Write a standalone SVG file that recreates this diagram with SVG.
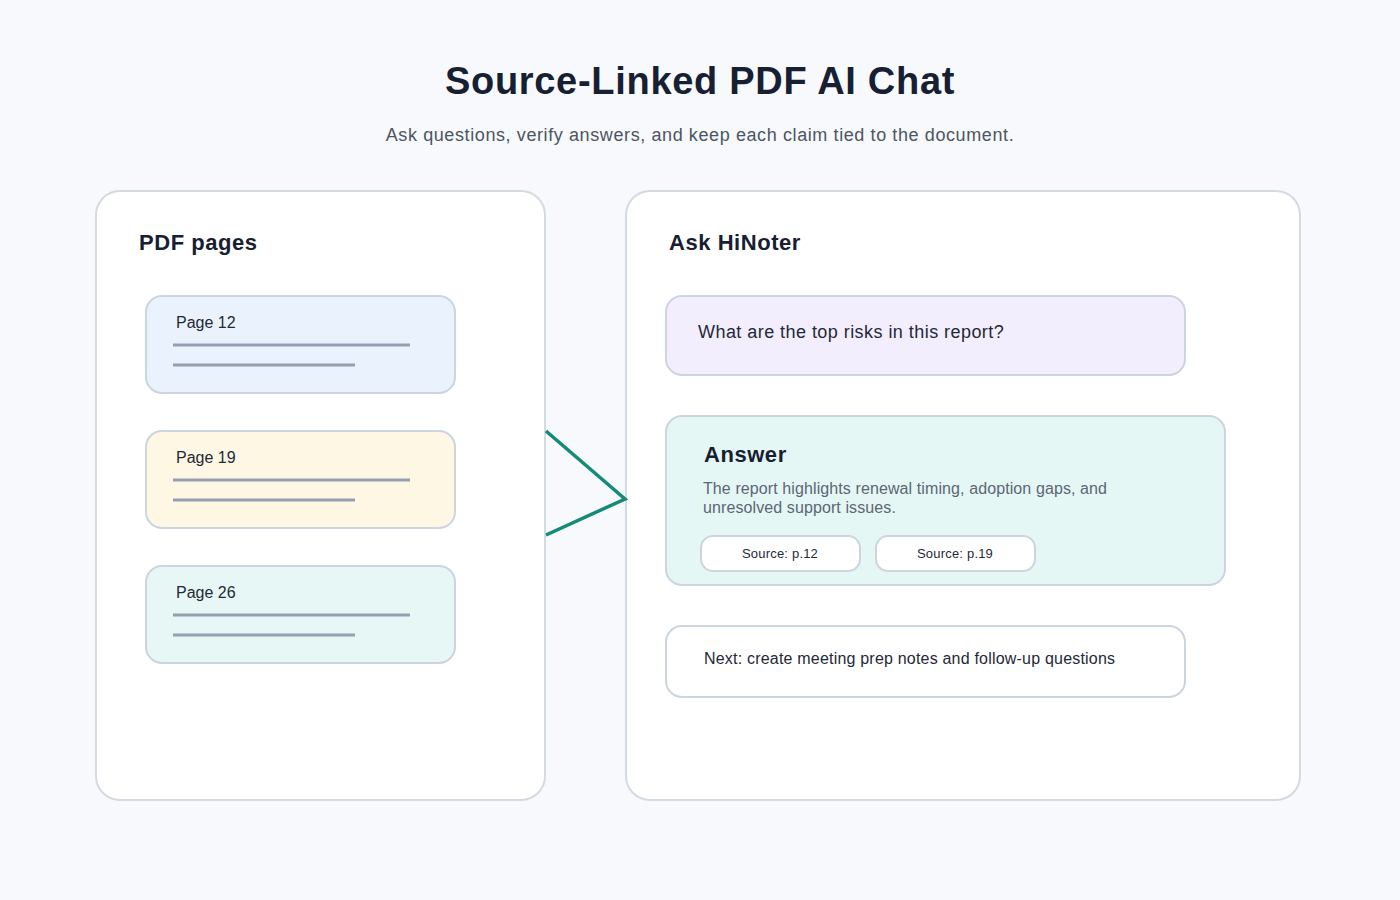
<svg xmlns="http://www.w3.org/2000/svg" width="1400" height="900" viewBox="0 0 1400 900">
<style>
text{font-family:"Liberation Sans",Arial,sans-serif}
.title{font-size:38px;font-weight:700;fill:#172033;letter-spacing:0.7px}
.sub{font-size:18px;fill:#4b5563;letter-spacing:0.6px}
.panel{fill:#ffffff;stroke:#d3dae2;stroke-width:2}
.h{font-size:22px;font-weight:700;fill:#172033;letter-spacing:0.55px}
.card{stroke:#ccd5df;stroke-width:2}
.pg{font-size:16px;fill:#1f2937}
.ln{stroke:#94a0b0;stroke-width:3}
.q{font-size:18px;fill:#1f2937;letter-spacing:0.45px}
.body{font-size:16px;fill:#5b6676;letter-spacing:0.1px}
.nx{font-size:16px;fill:#1f2937;letter-spacing:0.2px}
.pill{fill:#ffffff;stroke:#ccd5df;stroke-width:2}
.src{font-size:13px;fill:#1f2937;text-anchor:middle;letter-spacing:0.2px}
.conn{stroke:#148a78;stroke-width:3.5;fill:none}
</style>
<rect width="1400" height="900" fill="#f7f9fc"/>
<text class="title" x="700" y="94" text-anchor="middle">Source-Linked PDF AI Chat</text>
<text class="sub" x="700" y="141" text-anchor="middle">Ask questions, verify answers, and keep each claim tied to the document.</text>
<g id="pdf-panel">
<rect class="panel" x="96" y="191" width="449" height="609" rx="24"/>
<text class="h" x="139" y="250">PDF pages</text>
</g>
<g id="page-12">
<rect class="card" x="146" y="296" width="309" height="97" rx="16" fill="#eaf2fe"/>
<text class="pg" x="176" y="328">Page 12</text>
<line class="ln" x1="173" y1="345" x2="410" y2="345"/>
<line class="ln" x1="173" y1="365" x2="355" y2="365"/>
</g>
<g id="page-19">
<rect class="card" x="146" y="431" width="309" height="97" rx="16" fill="#fef7e4"/>
<text class="pg" x="176" y="463">Page 19</text>
<line class="ln" x1="173" y1="480" x2="410" y2="480"/>
<line class="ln" x1="173" y1="500" x2="355" y2="500"/>
</g>
<g id="page-26">
<rect class="card" x="146" y="566" width="309" height="97" rx="16" fill="#e6f7f5"/>
<text class="pg" x="176" y="598">Page 26</text>
<line class="ln" x1="173" y1="615" x2="410" y2="615"/>
<line class="ln" x1="173" y1="635" x2="355" y2="635"/>
</g>
<g id="chat-panel">
<rect class="panel" x="626" y="191" width="674" height="609" rx="24"/>
<text class="h" x="669" y="250">Ask HiNoter</text>
</g>
<g id="question">
<rect class="card" x="666" y="296" width="519" height="79" rx="16" fill="#f3eefe"/>
<text class="q" x="698" y="338">What are the top risks in this report?</text>
</g>
<g id="answer">
<rect class="card" x="666" y="416" width="559" height="169" rx="16" fill="#e5f7f4"/>
<text class="h" x="704" y="462">Answer</text>
<text class="body" x="703" y="494">The report highlights renewal timing, adoption gaps, and</text>
<text class="body" x="703" y="513">unresolved support issues.</text>
<rect class="pill" x="701" y="536" width="159" height="35" rx="12"/>
<text class="src" x="780" y="558">Source: p.12</text>
<rect class="pill" x="876" y="536" width="159" height="35" rx="12"/>
<text class="src" x="955" y="558">Source: p.19</text>
</g>
<g id="next">
<rect class="card" x="666" y="626" width="519" height="71" rx="16" fill="#ffffff"/>
<text class="nx" x="704" y="664">Next: create meeting prep notes and follow-up questions</text>
</g>
<g id="connectors">
<path class="conn" d="M546 431 L625 499 L546 535"/>
</g>
</svg>
